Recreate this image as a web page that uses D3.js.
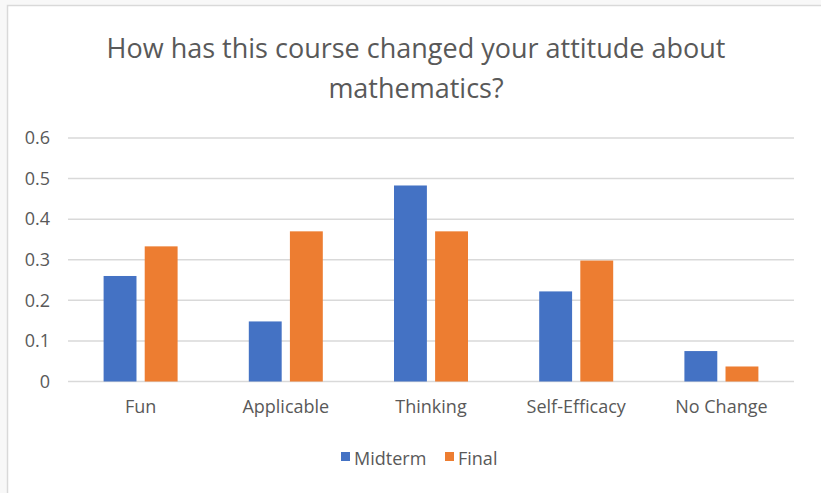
<!DOCTYPE html>
<html lang="en">
<head>
    <meta charset="UTF-8">
    <title>Attitude about mathematics</title>
    <style>
        body, html {
            margin: 0;
            padding: 0;
            background: #f8f8f8;
            font-family: 'Open Sans', 'Noto Sans', sans-serif;
        }
        svg { display: block; }
        .grid line { stroke: #d9d9d9; stroke-width: 1.5px; }
        .tick text { fill: #595959; }
    </style>
</head>
<body>
    <svg width="821" height="493"></svg>

    <script src="https://d3js.org/d3.v7.min.js"></script>
    <script>
        // data
        const categories = ["Fun", "Applicable", "Thinking", "Self-Efficacy", "No Change"];
        const seriesNames = ["Midterm", "Final"];
        const midterm = [0.26, 0.148, 0.483, 0.222, 0.075];
        const finalVals = [0.333, 0.37, 0.37, 0.298, 0.037];
        const yTicks = [0, 0.1, 0.2, 0.3, 0.4, 0.5, 0.6];
        const colors = ["#4472c4", "#ed7d31"];

        const svg = d3.select("svg");
        const W = 821, H = 493;

        // chart frame
        svg.append("rect")
            .attr("x", 7.5).attr("y", 5.5)
            .attr("width", W).attr("height", H)
            .attr("fill", "#ffffff")
            .attr("stroke", "#d9d9d9")
            .attr("stroke-width", 1.5);

        const plot = { left: 68, right: 794, top: 138, bottom: 381.5 };

        const x = d3.scaleBand()
            .domain(categories)
            .range([plot.left, plot.right]);

        const bw = x.bandwidth();
        // two bars of ~33px with a small gap, centred in each category
        const x1 = d3.scaleBand()
            .domain(seriesNames)
            .range([bw / 2 - 37, bw / 2 + 37])
            .paddingInner(0.2);

        const y = d3.scaleLinear()
            .domain([0, 0.6])
            .range([plot.bottom, plot.top]);

        // title
        const title = svg.append("text")
            .attr("text-anchor", "middle")
            .attr("fill", "#595959")
            .style("font-size", "27px");
        title.append("tspan").attr("x", 416).attr("y", 58).text("How has this course changed your attitude about");
        title.append("tspan").attr("x", 416).attr("y", 98).text("mathematics?");

        // gridlines
        svg.append("g")
            .attr("class", "grid")
            .selectAll("line")
            .data(yTicks)
            .join("line")
            .attr("x1", plot.left).attr("x2", plot.right)
            .attr("y1", d => y(d)).attr("y2", d => y(d));

        // y axis labels
        const yAxis = svg.append("g")
            .attr("transform", `translate(${plot.left - 18},0)`)
            .call(d3.axisLeft(y).tickValues(yTicks).tickSize(0).tickPadding(0).tickFormat(d3.format("")));
        yAxis.select(".domain").remove();
        yAxis.selectAll("text").style("font-size", "18px").attr("font-family", "'Open Sans', sans-serif");

        // bars
        const groups = svg.append("g")
            .selectAll("g")
            .data(categories)
            .join("g")
            .attr("transform", d => `translate(${x(d)},0)`);

        groups.selectAll("rect")
            .data((d, i) => [midterm[i], finalVals[i]].map((v, j) => ({ key: seriesNames[j], value: v, j })))
            .join("rect")
            .attr("x", d => x1(d.key))
            .attr("width", x1.bandwidth())
            .attr("y", d => y(d.value))
            .attr("height", d => y(0) - y(d.value))
            .attr("fill", d => colors[d.j]);

        // x axis labels
        const xAxis = svg.append("g")
            .attr("transform", `translate(0,${plot.bottom + 14})`)
            .call(d3.axisBottom(x).tickSize(0).tickPadding(0));
        xAxis.select(".domain").remove();
        xAxis.selectAll("text").style("font-size", "18px").attr("font-family", "'Open Sans', sans-serif").attr("dy", "0.95em");

        // legend
        const legend = svg.append("g").attr("transform", "translate(341,465)");
        const legendX = [0, 104];
        seriesNames.forEach((name, i) => {
            const item = legend.append("g").attr("transform", `translate(${legendX[i]},0)`);
            item.append("rect")
                .attr("x", 0).attr("y", -13)
                .attr("width", 9).attr("height", 9)
                .attr("fill", colors[i]);
            item.append("text")
                .attr("x", 13).attr("y", 0)
                .attr("fill", "#595959")
                .style("font-size", "18px")
                .text(name);
        });
    </script>
</body>
</html>
